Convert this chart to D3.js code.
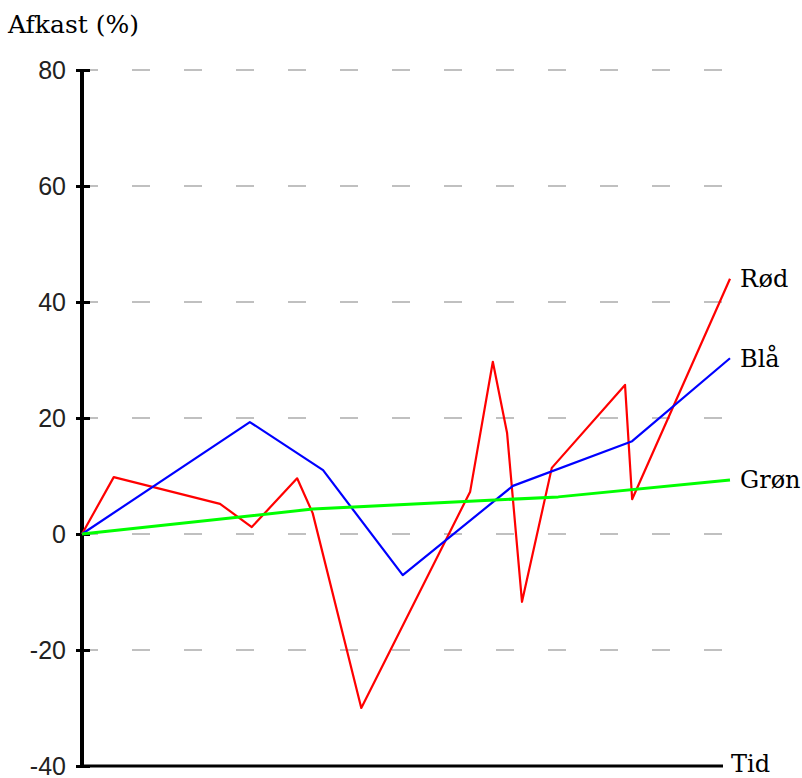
<!DOCTYPE html>
<html>
<head>
<meta charset="utf-8">
<script src="https://cdn.jsdelivr.net/npm/d3@7"></script>
<style>
  body { margin: 0; background: #fff; }
</style>
</head>
<body>
<script>
const width = 802;
const height = 778;

// time on a 0-100 scale (no labels on the x axis)
const redTime = [0, 4.9, 21.3, 26.2, 33.2, 35.6, 43.1, 59.9, 63.4, 65.6, 67.9, 72.5, 83.8, 84.9, 100];
const redValues = [0, 9.8, 5.2, 1.2, 9.6, 3.6, -30, 7.3, 29.7, 17.4, -11.7, 11.4, 25.7, 6.0, 44];

const blueTime = [0, 25.9, 37.2, 49.5, 66.5, 84.9, 100];
const blueValues = [0, 19.3, 11, -7.1, 8.3, 16, 30.3];

const greenTime = [0, 35.6, 73.5, 100];
const greenValues = [0, 4.3, 6.4, 9.3];

const yTicks = [-40, -20, 0, 20, 40, 60, 80];
const gridTicks = [-20, 0, 20, 40, 60, 80];

const series = [
  { name: "Rød", color: "#ff0000", width: 2.2, t: redTime, v: redValues },
  { name: "Blå", color: "#0000ff", width: 2.2, t: blueTime, v: blueValues },
  { name: "Grøn", color: "#00ff00", width: 3, t: greenTime, v: greenValues }
];

const x = d3.scaleLinear().domain([0, 100]).range([82, 730]);
const y = d3.scaleLinear().domain([-40, 80]).range([766, 70]);

const svg = d3.select("body")
  .append("svg")
  .attr("width", width)
  .attr("height", height);

// dashed grid
svg.append("g")
  .selectAll("line")
  .data(gridTicks)
  .join("line")
  .attr("x1", 80)
  .attr("x2", 722)
  .attr("y1", d => y(d))
  .attr("y2", d => y(d))
  .attr("stroke", "#c0c0c0")
  .attr("stroke-width", 2)
  .attr("stroke-dasharray", "18 34");

// x axis line
svg.append("line")
  .attr("x1", 82)
  .attr("x2", 723)
  .attr("y1", y(-40))
  .attr("y2", y(-40))
  .attr("stroke", "#000")
  .attr("stroke-width", 3);

// y axis
const yAxis = d3.axisLeft(y)
  .tickValues(yTicks)
  .tickFormat(d => String(d))
  .tickSize(6)
  .tickPadding(10);
const gy = svg.append("g")
  .attr("transform", "translate(82,0)")
  .call(yAxis);
gy.select(".domain").remove();
gy.selectAll(".tick line")
  .attr("x1", 8)
  .attr("x2", -6)
  .attr("stroke", "#000")
  .attr("stroke-width", 3);
gy.selectAll(".tick text")
  .attr("font-family", "Liberation Sans, Arial, sans-serif")
  .attr("font-size", 25)
  .attr("fill", "#222");
gy.append("line")
  .attr("y1", y(80))
  .attr("y2", y(-40) + 1)
  .attr("stroke", "#000")
  .attr("stroke-width", 4);

// lines
const line = d3.line()
  .x(d => x(d[0]))
  .y(d => y(d[1]));

svg.append("g")
  .selectAll("path")
  .data(series)
  .join("path")
  .attr("d", s => line(s.t.map((t, i) => [t, s.v[i]])))
  .attr("fill", "none")
  .attr("stroke", s => s.color)
  .attr("stroke-width", s => s.width)
  .attr("stroke-linejoin", "round");

// series labels
svg.append("g")
  .selectAll("text")
  .data(series)
  .join("text")
  .attr("x", 740)
  .attr("y", s => y(s.v[s.v.length - 1]))
  .attr("dy", "0.35em")
  .attr("font-family", "DejaVu Serif, serif")
  .attr("font-size", 24)
  .attr("fill", "#000")
  .text(s => s.name);

// axis titles
svg.append("text")
  .attr("x", 8)
  .attr("y", 33)
  .attr("font-family", "DejaVu Serif, serif")
  .attr("font-size", 25)
  .attr("fill", "#000")
  .text("Afkast (%)");

svg.append("text")
  .attr("x", 731)
  .attr("y", 772)
  .attr("font-family", "DejaVu Serif, serif")
  .attr("font-size", 24)
  .attr("fill", "#000")
  .text("Tid");
</script>
</body>
</html>
